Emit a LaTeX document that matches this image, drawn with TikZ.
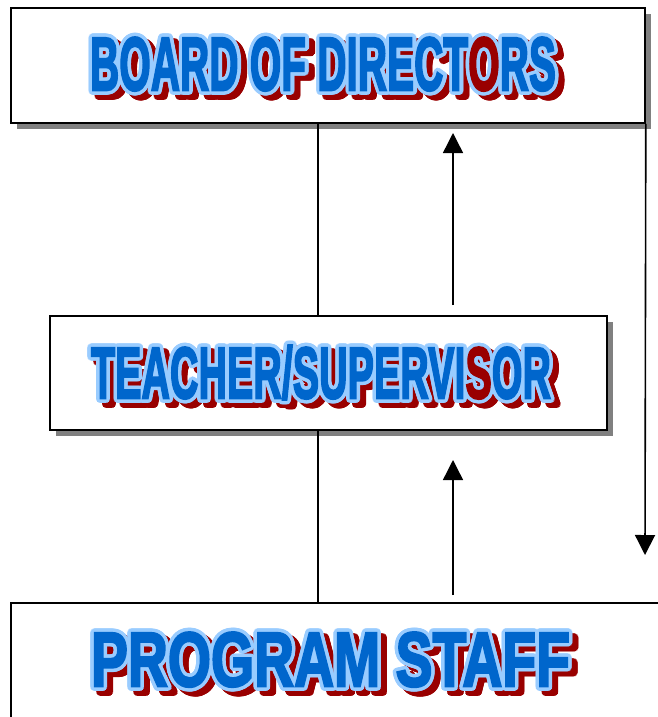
\documentclass[tikz,border=0pt]{standalone}
\usepackage{fontspec}
\usepackage{graphicx}
\usepackage[copies]{contour}
\usetikzlibrary{arrows.meta,shadows}
\newfontfamily\waf{Liberation Sans}[FakeBold=3]
\definecolor{wafill}{HTML}{0066CC}
\definecolor{waline}{HTML}{99CCFF}
\definecolor{wshadow}{HTML}{990000}
\definecolor{boxshadow}{HTML}{808080}
\contourlength{3.5pt}
\contournumber{16}
\newcommand\nodp[1]{\setbox0=\hbox{#1}\dp0=0pt \box0}
\newcommand\wtxt[3]{\resizebox{#1pt}{#2pt}{\nodp{\waf\bfseries #3}}}
\newcommand\redl[1]{\textcolor{wshadow}{#1}}
\tikzset{
  orgbox/.style={draw=black, line width=1.6pt, fill=white, inner sep=0pt,
    drop shadow={shadow xshift=6pt, shadow yshift=-6pt, fill=boxshadow, opacity=1}},
  wart/.style={inner sep=0pt, outer sep=0pt},
  conn/.style={line width=1.4pt, black},
  upar/.style={line width=1.4pt, black, -{Triangle[width=20pt,length=20pt]}},
}
\begin{document}
\begin{tikzpicture}[x=1pt,y=-1pt]
\useasboundingbox (0,0) rectangle (658,717);
\clip (0,0) rectangle (658,717);
% boxes
\node[orgbox, minimum width=634pt, minimum height=115pt] (board) at (328,65.5) {};
\node[orgbox, minimum width=557pt, minimum height=114pt] (teacher) at (328.5,373) {};
\node[orgbox, minimum width=709pt, minimum height=177pt] (staff) at (365.5,691.5) {};
% texts
\node[wart] (boards) at (329,70.5) {\contour{wshadow}{\color{wshadow}\wtxt{466}{53}{BOARD OF DIRECTORS}}};
\node[wart] (boardt) at (323,65.5) {\contour{waline}{\color{wafill}\wtxt{466}{53}{BOARD OF DIRECT\redl{O}RS}}};
\node[wart] (teachers) at (327,378.5) {\contour{wshadow}{\color{wshadow}\wtxt{460}{53}{TEACHER/SUPERVISOR}}};
\node[wart] (teachert) at (321,373.5) {\contour{waline}{\color{wafill}\wtxt{460}{53}{TEACHER/SUPERVI\redl{S}OR}}};
\node[wart] (staffs) at (336.5,666) {\contour{wshadow}{\color{wshadow}\wtxt{479}{54}{PROGRAM STAFF}}};
\node[wart] (stafft) at (330.5,661) {\contour{waline}{\color{wafill}\wtxt{479}{54}{PROGRAM STAFF}}};
% connectors
\coordinate (vx) at (318,0);
\draw[conn] (vx |- board.south) -- (vx |- teacher.north);
\draw[conn] (vx |- teacher.south) -- (vx |- staff.north);
\coordinate (a1s) at (453,305);
\coordinate (a1e) at (453,133);
\coordinate (a2s) at (453,595);
\coordinate (a2e) at (453,460);
\draw[upar] (a1s) -- (a1e);
\draw[upar] (a2s) -- (a2e);
\coordinate (rend) at (645,555);
\draw[line width=1.6pt, -{Triangle[width=20pt,length=20pt]}] (board.south east) -- (rend);
\end{tikzpicture}
\end{document}
